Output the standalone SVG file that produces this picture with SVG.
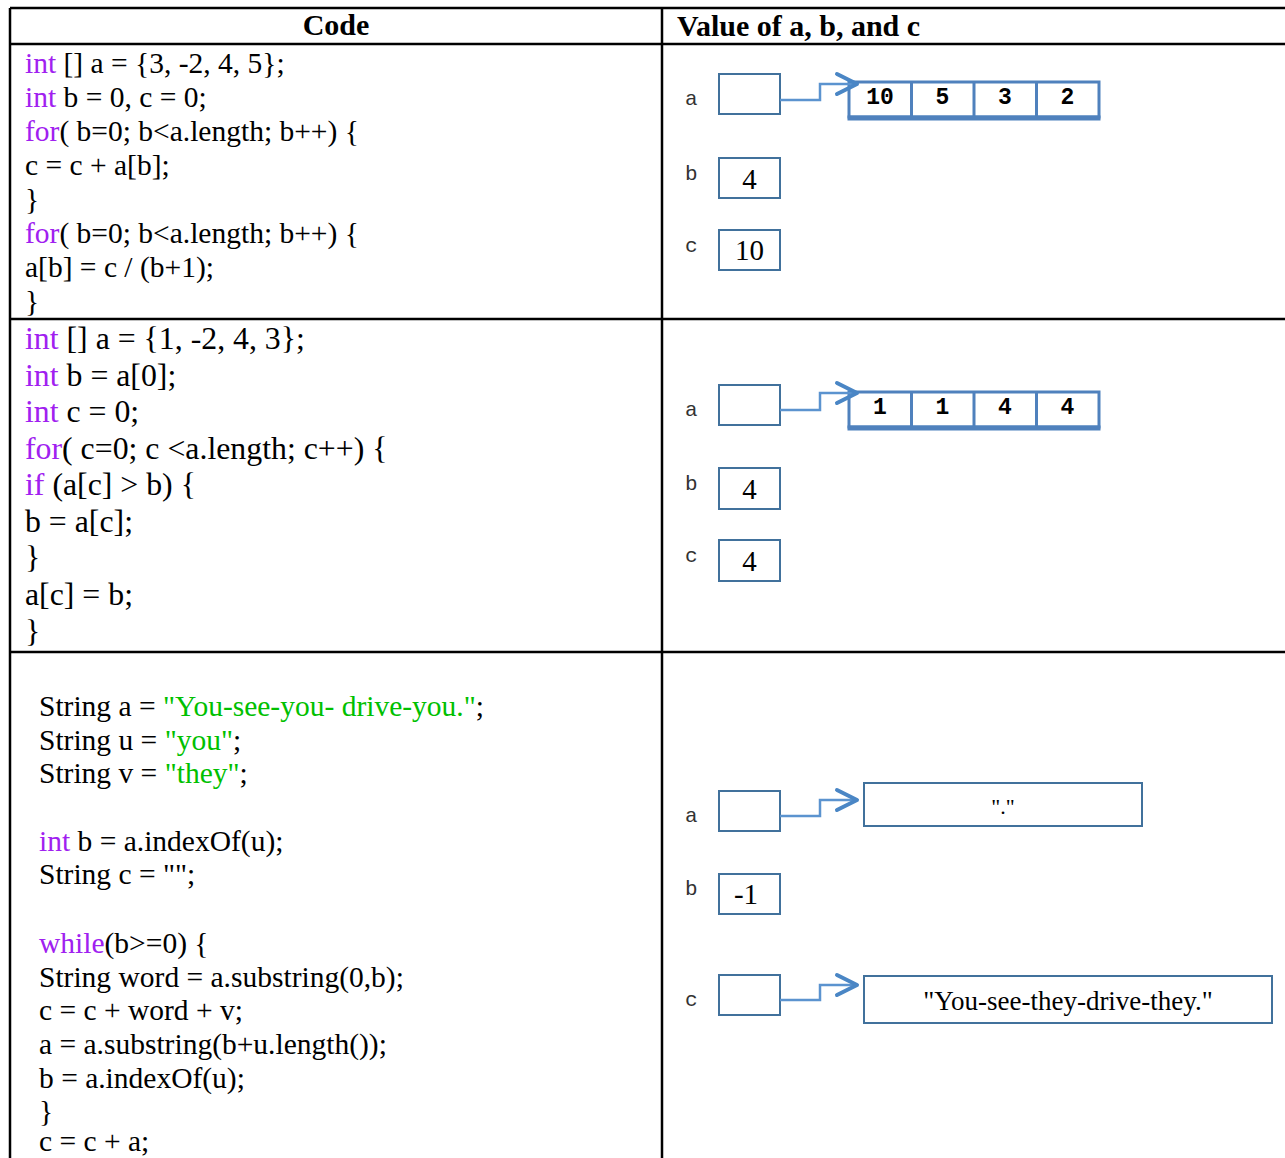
<svg xmlns="http://www.w3.org/2000/svg" width="1285" height="1158" viewBox="0 0 1285 1158">
  <style>
    .grid { stroke: #000; stroke-width: 2.5; fill: none; }
    .hdr { font-family: "Liberation Serif", "Times New Roman", serif; font-weight: bold; font-size: 30px; fill: #000; }
    .code { font-family: "Liberation Serif", "Times New Roman", serif; fill: #000; }
    .c1 { font-size: 29.5px; }
    .c2 { font-size: 31.8px; }
    .kw { fill: #A020F0; }
    .str { fill: #00C000; }
    .var { font-family: "Liberation Mono", "Courier New", monospace; font-size: 21px; fill: #333; }
    .box { fill: #fff; stroke: #41719C; stroke-width: 2; }
    .val { font-family: "Liberation Serif", "Times New Roman", serif; font-size: 29px; fill: #000; text-anchor: middle; }
    .arr { fill: #fff; stroke: #4F81BD; stroke-width: 3; }
    .arrbase { stroke: #4F81BD; stroke-width: 5; }
    .cell { font-family: "Liberation Mono", "Courier New", monospace; font-weight: bold; font-size: 23px; fill: #000; text-anchor: middle; }
    .link { fill: none; stroke: #5B93CF; stroke-width: 2.5; }
    .head { fill: none; stroke: #4A86C5; stroke-width: 4; stroke-linecap: round; stroke-linejoin: round; }
  </style>

  <!-- table rules -->
  <g id="table">
    <line class="grid" x1="10" y1="8" x2="1285" y2="8"/>
    <line class="grid" x1="10" y1="44" x2="1285" y2="44"/>
    <line class="grid" x1="10" y1="319" x2="1285" y2="319"/>
    <line class="grid" x1="10" y1="652" x2="1285" y2="652"/>
    <line class="grid" x1="10" y1="8" x2="10" y2="1158"/>
    <line class="grid" x1="662" y1="8" x2="662" y2="1158"/>
    <text class="hdr" x="336" y="35" text-anchor="middle">Code</text>
    <text class="hdr" x="677" y="36">Value of a, b, and c</text>
  </g>

  <!-- code, row 1 -->
  <g id="code1" class="code c1">
    <text x="25" y="73"><tspan class="kw">int</tspan> [] a = {3, -2, 4, 5};</text>
    <text x="25" y="107"><tspan class="kw">int</tspan> b = 0, c = 0;</text>
    <text x="25" y="141"><tspan class="kw">for</tspan>( b=0; b&lt;a.length; b++) {</text>
    <text x="25" y="175">c = c + a[b];</text>
    <text x="25" y="209">}</text>
    <text x="25" y="243"><tspan class="kw">for</tspan>( b=0; b&lt;a.length; b++) {</text>
    <text x="25" y="277">a[b] = c / (b+1);</text>
    <text x="25" y="311">}</text>
  </g>

  <!-- code, row 2 -->
  <g id="code2" class="code c2">
    <text x="25" y="349"><tspan class="kw">int</tspan> [] a = {1, -2, 4, 3};</text>
    <text x="25" y="386"><tspan class="kw">int</tspan> b = a[0];</text>
    <text x="25" y="422"><tspan class="kw">int</tspan> c = 0;</text>
    <text x="25" y="459"><tspan class="kw">for</tspan>( c=0; c &lt;a.length; c++) {</text>
    <text x="25" y="495"><tspan class="kw">if</tspan> (a[c] &gt; b) {</text>
    <text x="25" y="532">b = a[c];</text>
    <text x="25" y="568">}</text>
    <text x="25" y="605">a[c] = b;</text>
    <text x="25" y="642">}</text>
  </g>

  <!-- code, row 3 -->
  <g id="code3" class="code c1">
    <text x="39" y="716">String a = <tspan class="str">"You-see-you- drive-you."</tspan>;</text>
    <text x="39" y="750">String u = <tspan class="str">"you"</tspan>;</text>
    <text x="39" y="783">String v = <tspan class="str">"they"</tspan>;</text>
    <text x="39" y="851"><tspan class="kw">int</tspan> b = a.indexOf(u);</text>
    <text x="39" y="884">String c = "";</text>
    <text x="39" y="953"><tspan class="kw">while</tspan>(b&gt;=0) {</text>
    <text x="39" y="987">String word = a.substring(0,b);</text>
    <text x="39" y="1020">c = c + word + v;</text>
    <text x="39" y="1054">a = a.substring(b+u.length());</text>
    <text x="39" y="1088">b = a.indexOf(u);</text>
    <text x="39" y="1121">}</text>
    <text x="39" y="1151">c = c + a;</text>
  </g>

  <!-- row 1 values -->
  <g id="r1-a">
    <text class="var" x="685" y="105">a</text>
    <rect class="box" x="719" y="74" width="61" height="40"/>
  </g>
  <g id="r1-array">
    <rect class="arr" x="849" y="82" width="250" height="35"/>
    <line class="arrbase" x1="847.5" y1="118" x2="1100.5" y2="118"/>
    <line class="arr" x1="911.5" y1="82" x2="911.5" y2="117"/>
    <line class="arr" x1="974" y1="82" x2="974" y2="117"/>
    <line class="arr" x1="1036.5" y1="82" x2="1036.5" y2="117"/>
    <text class="cell" x="880" y="104">10</text>
    <text class="cell" x="942.5" y="104">5</text>
    <text class="cell" x="1005" y="104">3</text>
    <text class="cell" x="1067.5" y="104">2</text>
  </g>
  <g id="r1-b">
    <text class="var" x="685" y="180">b</text>
    <rect class="box" x="719" y="158" width="61" height="40"/>
    <text class="val" x="749.5" y="189">4</text>
  </g>
  <g id="r1-c">
    <text class="var" x="685" y="252">c</text>
    <rect class="box" x="719" y="230" width="61" height="40"/>
    <text class="val" x="749.5" y="260">10</text>
  </g>

  <!-- row 2 values -->
  <g id="r2-a">
    <text class="var" x="685" y="416">a</text>
    <rect class="box" x="719" y="385" width="61" height="40"/>
  </g>
  <g id="r2-array">
    <rect class="arr" x="849" y="392" width="250" height="35"/>
    <line class="arrbase" x1="847.5" y1="428" x2="1100.5" y2="428"/>
    <line class="arr" x1="911.5" y1="392" x2="911.5" y2="427"/>
    <line class="arr" x1="974" y1="392" x2="974" y2="427"/>
    <line class="arr" x1="1036.5" y1="392" x2="1036.5" y2="427"/>
    <text class="cell" x="880" y="414">1</text>
    <text class="cell" x="942.5" y="414">1</text>
    <text class="cell" x="1005" y="414">4</text>
    <text class="cell" x="1067.5" y="414">4</text>
  </g>
  <g id="r2-b">
    <text class="var" x="685" y="490">b</text>
    <rect class="box" x="719" y="468" width="61" height="41"/>
    <text class="val" x="749.5" y="499">4</text>
  </g>
  <g id="r2-c">
    <text class="var" x="685" y="562">c</text>
    <rect class="box" x="719" y="540" width="61" height="41"/>
    <text class="val" x="749.5" y="571">4</text>
  </g>

  <!-- row 3 values -->
  <g id="r3-a">
    <text class="var" x="685" y="822">a</text>
    <rect class="box" x="719" y="791" width="61" height="40"/>
  </g>
  <g id="r3-a-str">
    <rect class="box" x="864" y="783" width="278" height="43"/>
    <text class="val" x="1003" y="814" style="font-size:22px">"."</text>
  </g>
  <g id="r3-b">
    <text class="var" x="685" y="895">b</text>
    <rect class="box" x="719" y="874" width="61" height="40"/>
    <text class="val" x="746" y="904">-1</text>
  </g>
  <g id="r3-c">
    <text class="var" x="685" y="1006">c</text>
    <rect class="box" x="719" y="975" width="61" height="40"/>
  </g>
  <g id="r3-c-str">
    <rect class="box" x="864" y="976" width="408" height="47"/>
    <text class="val" x="1068" y="1010" style="font-size:27px">"You-see-they-drive-they."</text>
  </g>

  <!-- reference arrows -->
  <g id="connectors">
    <path class="link" d="M780 100 H820 V84 H855"/>
    <path class="head" d="M837 74 L857 84 L837 94"/>
    <path class="link" d="M780 410 H820 V393 H855"/>
    <path class="head" d="M837 383 L857 393 L837 403"/>
    <path class="link" d="M780 816 H820 V800 H855"/>
    <path class="head" d="M837 790 L857 800 L837 810"/>
    <path class="link" d="M780 1000 H820 V985 H855"/>
    <path class="head" d="M837 975 L857 985 L837 995"/>
  </g>
</svg>
